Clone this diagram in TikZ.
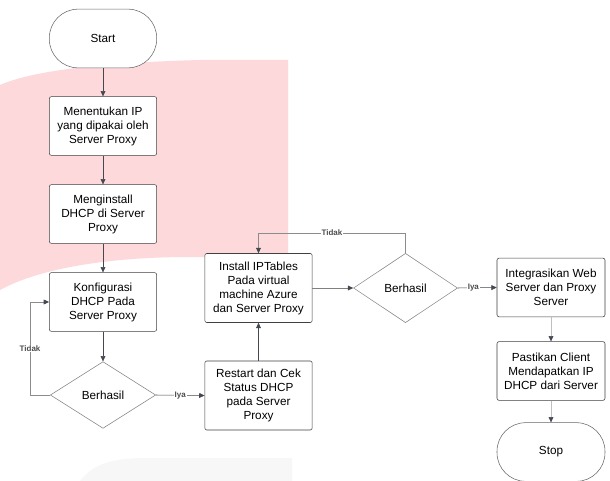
\documentclass[tikz,border=0pt]{standalone}
\usepackage{xcolor}
\usepackage{fontspec}
\setmainfont{Liberation Sans}
\usetikzlibrary{shapes.geometric,arrows.meta}

\definecolor{pinkbg}{RGB}{253,217,220}
\definecolor{greybg}{RGB}{247,247,247}
\definecolor{garis}{RGB}{68,72,80}

\tikzset{
	proses/.style={draw=black!75, fill=white, rounded corners=1.5pt, align=center,
		minimum width=80.5pt, minimum height=44pt, inner sep=1pt,
		font=\fontsize{8.8}{10.5}\selectfont},
	ujung/.style={draw=black!60, fill=white, rounded corners=21.5pt,
		minimum width=80.5pt, minimum height=44pt, font=\fontsize{8.8}{10.5}\selectfont},
	cek/.style={diamond, draw=black!50, fill=white, inner sep=0pt,
		minimum width=79pt, minimum height=50pt, font=\fontsize{8.8}{10.5}\selectfont},
	panah/.style={draw=garis, -{Triangle[length=4pt,width=3.6pt,color=garis]}},
	ket/.style={fill=white, inner sep=0.6pt, text=black!70, font=\fontsize{6}{7}\selectfont\bfseries}
}

\begin{document}
\begin{tikzpicture}[x=0.75pt,y=-0.75pt]

\fill[white] (0,0) rectangle (610,481);
\useasboundingbox (0,0) rectangle (610,481);

% latar
\fill[pinkbg] (0,85) .. controls (30,72) and (90,63) .. (200,60) -- (288,60)
	-- (288,257) -- (190,257) .. controls (110,257) and (40,268) .. (0,290) -- cycle;
\fill[greybg] (80,481) .. controls (95,462) and (115,458) .. (150,458)
	-- (292,458) -- (292,481) -- cycle;

% kolom kiri
\node[ujung] (start) at (103,38.5) {Start};
\node[proses] (ip) at (103,126) {Menentukan IP\\yang dipakai oleh\\Server Proxy};
\node[proses] (dhcp) at (103,214) {Menginstall\\DHCP di Server\\Proxy};
\node[proses] (konf) at (103,302) {Konfigurasi\\DHCP Pada\\Server Proxy};
\node[cek] (cek1) at (103,395) {Berhasil};

% kolom tengah
\node[proses, minimum height=51.75pt] (restart) at (258.5,395.5) {Restart dan Cek\\Status DHCP\\pada Server\\Proxy};
\node[proses, minimum height=51.75pt] (iptables) at (258.5,288) {Install IPTables\\Pada virtual\\machine Azure\\dan Server Proxy};
\node[cek, minimum width=78pt, minimum height=52pt] (cek2) at (405.5,288) {Berhasil};

% kolom kanan
\node[proses, minimum width=81pt] (integrasi) at (551,287.5) {Integrasikan Web\\Server dan Proxy\\Server};
\node[proses, minimum width=81pt] (pastikan) at (551,371) {Pastikan Client\\Mendapatkan IP\\DHCP dari Server};
\node[ujung, minimum width=81pt] (stop) at (551,452) {Stop};

\draw[panah] (start) -- (ip);
\draw[panah] (ip) -- (dhcp);
\draw[panah] (dhcp) -- (konf);
\draw[panah] (konf) -- (cek1);
\draw[panah, draw=black!45] (cek1.west) -- ++(-20,0) |- (konf.west) node[ket, pos=0.25] {Tidak};
\draw[panah] (cek1.east) -- node[ket] {Iya} (restart.west);
\draw[panah] (restart) -- (iptables);
\draw[panah, draw=black!50] (iptables.east) -- (cek2.west);
\draw[panah, draw=black!45] (cek2.north) -- ++(0,-20) -| (iptables.north) node[ket, pos=0.25] {Tidak};
\draw[panah] (cek2.east) -- node[ket, pos=0.4] {Iya} (integrasi.west);
\draw[panah, draw=black!25] (integrasi) -- (pastikan);
\draw[panah, draw=black!25] (pastikan) -- (stop);

\end{tikzpicture}
\end{document}
